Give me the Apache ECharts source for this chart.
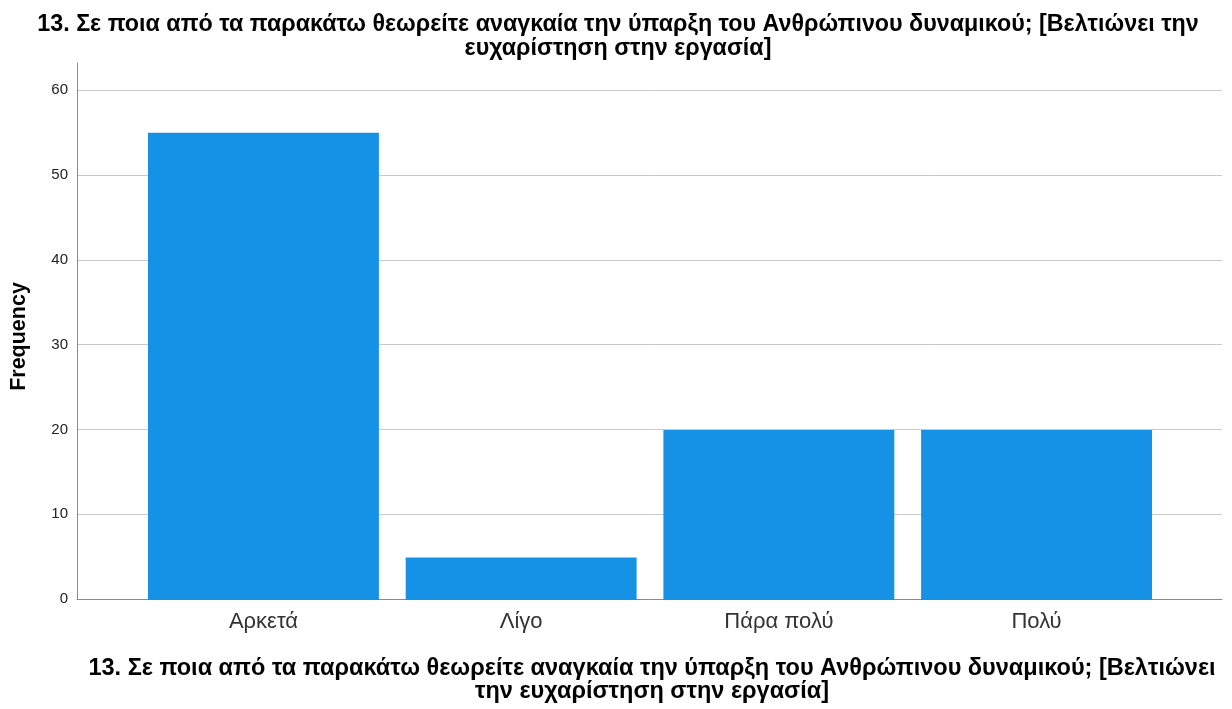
<!DOCTYPE html>
<html>
<head>
<meta charset="utf-8">
<script src="https://cdn.jsdelivr.net/npm/echarts@6/dist/echarts.min.js"></script>
<style>
html,body{margin:0;padding:0;background:#fff;}
#chart{width:1232px;height:709px;}
</style>
</head>
<body>
<div id="chart"></div>
<script>
const categories = ['Αρκετά', 'Λίγο', 'Πάρα πολύ', 'Πολύ'];
const frequencies = [55, 5, 20, 20];
const titleText = '13. Σε ποια από τα παρακάτω θεωρείτε αναγκαία την ύπαρξη του Ανθρώπινου δυναμικού; [Βελτιώνει την\nευχαρίστηση στην εργασία]';
const xAxisTitle = '13. Σε ποια από τα παρακάτω θεωρείτε αναγκαία την ύπαρξη του Ανθρώπινου δυναμικού; [Βελτιώνει\nτην ευχαρίστηση στην εργασία]';
const yAxisTitle = 'Frequency';
const yMax = 63.2;
const yInterval = 10;

const font = 'Arial, "Liberation Sans", sans-serif';
const chart = echarts.init(document.getElementById('chart'));
chart.setOption({
  backgroundColor: '#ffffff',
  animation: false,
  title: {
    text: titleText,
    left: 613,
    textAlign: 'center',
    top: 8,
    textStyle: { fontFamily: font, fontSize: 23.3, fontWeight: 'bold', color: '#000', lineHeight: 24 }
  },
  grid: [
    { left: 77, right: 10, top: 63, bottom: 109 },
    { left: 134.6, right: 66.6, top: 63, bottom: 109 }
  ],
  xAxis: [
    {
      gridIndex: 0, type: 'value', min: 0, max: 1,
      axisLine: { show: true, lineStyle: { color: '#8a8a8a', width: 1 } },
      axisTick: { show: false }, axisLabel: { show: false }, splitLine: { show: false },
      name: xAxisTitle, nameLocation: 'middle', nameGap: 58.5,
      nameTextStyle: { fontFamily: font, fontSize: 23.5, fontWeight: 'bold', color: '#000', lineHeight: 23, padding: [0, 0, 0, 5] }
    },
    {
      gridIndex: 1, type: 'category', data: categories,
      axisLine: { show: false }, axisTick: { show: false },
      axisLabel: { fontFamily: font, fontSize: 22, color: '#333', margin: 11 }
    }
  ],
  yAxis: [
    {
      gridIndex: 0, type: 'value', min: 0, max: yMax, interval: yInterval,
      axisLine: { show: true, lineStyle: { color: '#8a8a8a', width: 1 } },
      axisTick: { show: false },
      axisLabel: { showMaxLabel: false, fontFamily: font, fontSize: 15, color: '#222', margin: 9 },
      splitLine: { show: true, showMaxLine: false, lineStyle: { color: '#c8c8c8', width: 1 } },
      name: yAxisTitle, nameLocation: 'middle', nameGap: 46.5, nameRotate: 90,
      nameTextStyle: { fontFamily: font, fontSize: 21.5, fontWeight: 'bold', color: '#000', padding: [0, 11, 0, 0] }
    },
    {
      gridIndex: 1, type: 'value', min: 0, max: yMax, interval: yInterval,
      axisLine: { show: false }, axisTick: { show: false }, axisLabel: { show: false }, splitLine: { show: false }
    }
  ],
  series: [{
    type: 'bar',
    xAxisIndex: 1, yAxisIndex: 1,
    data: frequencies,
    barWidth: '89.6%',
    itemStyle: { color: '#1591e5' }
  }]
});
</script>
</body>
</html>
